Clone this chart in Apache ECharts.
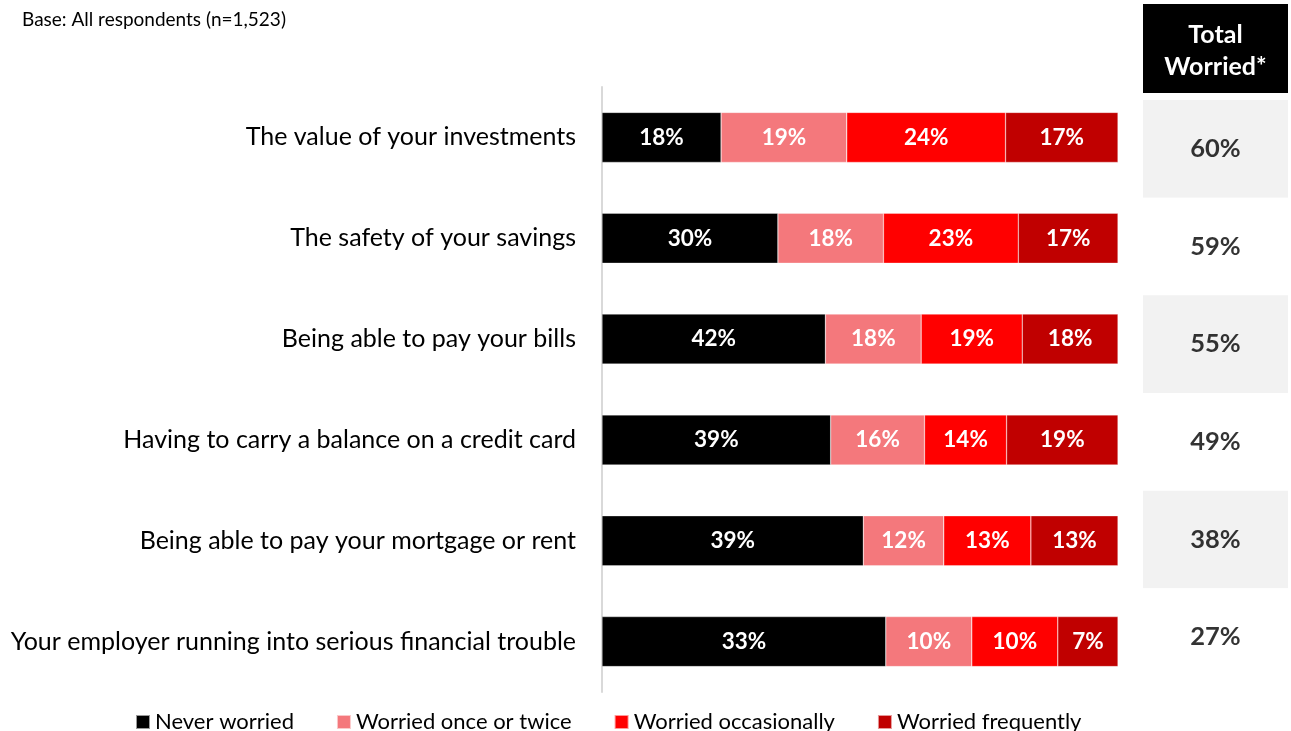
<!DOCTYPE html>
<html>
<head>
<meta charset="utf-8">
<script src="https://cdn.jsdelivr.net/npm/echarts@6/dist/echarts.min.js"></script>
<style>
  html, body { margin: 0; padding: 0; background: #fff; }
  #chart { width: 1291px; height: 731px; }
</style>
</head>
<body>
<div id="chart"></div>
<script>
var categories = [
	'The value of your investments',
	'The safety of your savings',
	'Being able to pay your bills',
	'Having to carry a balance on a credit card',
	'Being able to pay your mortgage or rent',
	'Your employer running into serious financial trouble'
];
var seriesNames = ['Never worried', 'Worried once or twice', 'Worried occasionally', 'Worried frequently'];
var neverWorried = [18, 30, 42, 39, 39, 33];
var onceOrTwice = [19, 18, 18, 16, 12, 10];
var occasionally = [24, 23, 19, 14, 13, 10];
var frequently = [17, 17, 18, 19, 13, 7];
var totalWorried = [60, 59, 55, 49, 38, 27];

var colors = ['#000000', '#f4787c', '#ff0000', '#c00000'];
var font = 'Lato, "Open Sans", sans-serif';

var rows = [neverWorried, onceOrTwice, occasionally, frequently];
// bars fill the full width: each segment is its share of the row's answered total
var rowSum = categories.map(function (c, i) {
	return rows.reduce(function (s, r) { return s + r[i]; }, 0);
});

var series = rows.map(function (raw, k) {
	return {
		name: seriesNames[k],
		type: 'bar',
		stack: 'all',
		barWidth: 50,
		xAxisIndex: 0,
		yAxisIndex: 0,
		itemStyle: { color: colors[k], borderColor: 'rgba(255,255,255,0.6)', borderWidth: 0.5 },
		label: {
			show: true,
			position: 'inside',
			color: '#fff',
			fontFamily: font,
			fontWeight: 'bold',
			fontSize: 22.5,
			formatter: function (p) { return raw[p.dataIndex] + '%'; }
		},
		data: raw.map(function (v, i) { return v / rowSum[i] * 100; })
	};
});

// total worried column
series.push({
	name: 'Total Worried',
	type: 'scatter',
	xAxisIndex: 1,
	yAxisIndex: 1,
	symbolSize: 0,
	silent: true,
	label: {
		show: true,
		position: 'inside',
		color: '#000',
		fontFamily: font,
		fontWeight: 'bold',
		fontSize: 25.5,
		formatter: function (p) { return totalWorried[p.dataIndex] + '%'; }
	},
	data: totalWorried.map(function (v, i) { return [0, i]; })
});

var option = {
	animation: false,
	grid: [
		{ left: 602, right: 173, top: 87, bottom: 39 },
		{ left: 1143, width: 145, top: 100, bottom: 45 }
	],
	xAxis: [
		{ type: 'value', gridIndex: 0, min: 0, max: 100, show: false },
		{ type: 'value', gridIndex: 1, min: -1, max: 1, show: false }
	],
	yAxis: [{
		type: 'category',
		gridIndex: 0,
		inverse: true,
		data: categories,
		axisLine: { show: true, lineStyle: { color: '#d9d9d9', width: 2 } },
		axisTick: { show: false },
		axisLabel: {
			margin: 26,
			color: '#000',
			fontFamily: font,
			fontSize: 25
		}
	}, {
		type: 'category',
		gridIndex: 1,
		inverse: true,
		data: categories,
		axisLine: { show: false },
		axisTick: { show: false },
		axisLabel: { show: false },
		splitArea: { show: true, areaStyle: { color: ['#f2f2f2', '#ffffff'] } }
	}],
	legend: {
		data: seriesNames,
		left: 130,
		top: 706,
		icon: 'rect',
		itemWidth: 14,
		itemHeight: 14,
		itemGap: 42,
		textStyle: { color: '#000', fontFamily: font, fontSize: 22 }
	},
	graphic: [{
		type: 'text',
		left: 22,
		top: 10,
		style: { text: 'Base: All respondents (n=1,523)', fill: '#000', font: '19px ' + font }
	}, {
		type: 'group',
		left: 1143,
		top: 4,
		children: [{
			type: 'rect',
			shape: { x: 0, y: 0, width: 145, height: 89 },
			style: { fill: '#000' }
		}, {
			type: 'text',
			x: 72.5,
			y: 47,
			style: {
				text: 'Total\nWorried*',
				fill: '#fff',
				font: 'bold 25px ' + font,
				align: 'center',
				verticalAlign: 'middle',
				lineHeight: 32
			}
		}]
	}],
	series: series
};

var myChart = echarts.init(document.getElementById('chart'));
myChart.setOption(option);
</script>
</body>
</html>
